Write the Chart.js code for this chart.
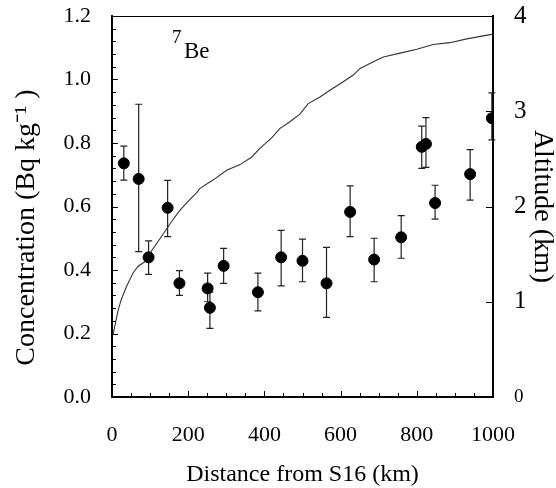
<!DOCTYPE html>
<html>
<head>
<meta charset="utf-8">
<script src="https://cdn.jsdelivr.net/npm/chart.js@4.4.0/dist/chart.umd.min.js"></script>
<style>
  html, body { margin: 0; padding: 0; background: #fff; }
  #wrap { width: 556px; height: 488px; }
</style>
</head>
<body>
<div id="wrap"><canvas id="beChart" width="556" height="488"></canvas></div>
<script>
// 7Be concentration samples (distance in km, Bq/kg)
const sampleDist = [31, 70, 96, 146, 177, 251, 257, 293, 383, 444, 500, 563, 625, 688, 759, 813, 824, 848, 940, 997];
const sampleConc = [0.736, 0.687, 0.44, 0.596, 0.358, 0.342, 0.281, 0.413, 0.33, 0.44, 0.429, 0.358, 0.583, 0.433, 0.503, 0.788, 0.797, 0.611, 0.702, 0.878];
const concHigh   = [0.79, 0.922, 0.492, 0.682, 0.398, 0.39, 0.33, 0.468, 0.39, 0.525, 0.497, 0.471, 0.665, 0.5, 0.571, 0.853, 0.88, 0.667, 0.779, 0.958];
const concLow    = [0.683, 0.458, 0.386, 0.505, 0.32, 0.30, 0.216, 0.358, 0.271, 0.35, 0.363, 0.251, 0.505, 0.363, 0.437, 0.72, 0.723, 0.56, 0.62, 0.81];

// altitude profile along the traverse (km)
const altDist = [3, 16, 24, 38, 55, 68, 86, 103, 129, 156, 178, 199, 221, 231, 266, 301, 336, 367, 388, 419, 441, 467, 493, 515, 546, 572, 607, 633, 651, 686, 712, 756, 800, 843, 887, 931, 1000];
const altKm   = [0.66, 0.91, 1.02, 1.16, 1.30, 1.37, 1.42, 1.53, 1.68, 1.84, 1.96, 2.05, 2.14, 2.19, 2.28, 2.38, 2.44, 2.52, 2.61, 2.72, 2.82, 2.89, 2.97, 3.08, 3.15, 3.22, 3.31, 3.38, 3.45, 3.52, 3.57, 3.61, 3.65, 3.70, 3.72, 3.76, 3.81];

const xTicks = [0, 200, 400, 600, 800, 1000];
const yTicks = [0, 0.2, 0.4, 0.6, 0.8, 1.0, 1.2];
const y2Ticks = [0, 1, 2, 3, 4];

const serif = "'Liberation Serif', 'Times New Roman', serif";

/* ---- error bars, drawn under the points ---- */
const errorBars = {
  id: 'errorBars',
  beforeDatasetsDraw(chart) {
    const { ctx, scales: { x, y } } = chart;
    ctx.save();
    ctx.strokeStyle = '#222';
    ctx.lineWidth = 1.2;
    sampleDist.forEach((d, i) => {
      const px = x.getPixelForValue(d);
      const top = y.getPixelForValue(concHigh[i]);
      const bot = y.getPixelForValue(concLow[i]);
      ctx.beginPath();
      ctx.moveTo(px, top); ctx.lineTo(px, bot);
      ctx.moveTo(px - 3.5, top); ctx.lineTo(px + 3.5, top);
      ctx.moveTo(px - 3.5, bot); ctx.lineTo(px + 3.5, bot);
      ctx.stroke();
    });
    ctx.restore();
  }
};

/* ---- frame, inward ticks, 7Be label ---- */
const frame = {
  id: 'frame',
  afterDraw(chart) {
    const { ctx, chartArea: a, scales: { x, y, y2 } } = chart;
    ctx.save();
    ctx.strokeStyle = '#000';
    ctx.lineWidth = 1;
    ctx.beginPath();
    ctx.moveTo(a.left, a.top + 0.5); ctx.lineTo(a.right, a.top + 0.5);
    ctx.stroke();

    ctx.beginPath();
    // left: every 0.04, longer at labelled values
    for (let k = 1; k < 30; k++) {
      const py = Math.round(y.getPixelForValue(k * 0.04)) + 0.5;
      const len = k % 5 === 0 ? 6 : 4;
      ctx.moveTo(a.left, py); ctx.lineTo(a.left + len, py);
    }
    // bottom: every 50 km
    for (let k = 1; k < 20; k++) {
      const px = Math.round(x.getPixelForValue(k * 50)) + 0.5;
      const len = k % 4 === 0 ? 6 : 4;
      ctx.moveTo(px, a.bottom); ctx.lineTo(px, a.bottom - len);
    }
    // right: every km
    for (let k = 1; k < 4; k++) {
      const py = Math.round(y2.getPixelForValue(k)) + 0.5;
      ctx.moveTo(a.right, py); ctx.lineTo(a.right - 7, py);
    }
    ctx.stroke();

    ctx.fillStyle = '#000';
    ctx.textBaseline = 'alphabetic';
    ctx.font = '19px ' + serif;
    ctx.fillText('7', a.left + 60, a.top + 27);
    ctx.font = '23px ' + serif;
    ctx.fillText('Be', a.left + 72, a.top + 42);
    ctx.restore();
  }
};

// keep the plot box where the reference has it (no label overflow padding)
function noVPad(s, w) { s.width = w; s.paddingTop = 0; s.paddingBottom = 0; }

new Chart(document.getElementById('beChart'), {
  type: 'scatter',
  data: {
    datasets: [
      {
        label: '7Be',
        data: sampleDist.map((d, i) => ({ x: d, y: sampleConc[i] })),
        yAxisID: 'y',
        backgroundColor: '#000',
        borderColor: '#000',
        pointRadius: 5.5,
        order: 1
      },
      {
        label: 'Altitude',
        type: 'line',
        data: altDist.map((d, i) => ({ x: d, y: altKm[i] })),
        yAxisID: 'y2',
        borderColor: '#333',
        borderWidth: 1.1,
        pointRadius: 0,
        tension: 0,
        fill: false,
        order: 2
      }
    ]
  },
  options: {
    responsive: false,
    devicePixelRatio: 1,
    animation: false,
    layout: { padding: { top: 16, left: 0, right: 0, bottom: 0 } },
    plugins: { legend: { display: false }, tooltip: { enabled: false } },
    scales: {
      x: {
        type: 'linear', min: 0, max: 1000,
        afterBuildTicks: s => { s.ticks = xTicks.map(v => ({ value: v })); },
        afterFit: s => { s.height = 91; s.paddingLeft = 0; s.paddingRight = 0; },
        grid: { display: false },
        border: { display: true, color: '#000', width: 2 },
        ticks: { color: '#000', padding: 17, font: { family: serif, size: 22 },
                 callback: v => String(v) },
        title: { display: true, text: 'Distance from S16 (km)', color: '#000',
                 font: { family: serif, size: 24, lineHeight: 1 }, padding: { top: 0, bottom: 1 } }
      },
      y: {
        type: 'linear', position: 'left', min: 0, max: 1.2,
        afterBuildTicks: s => { s.ticks = yTicks.map(v => ({ value: v })); },
        afterFit: s => noVPad(s, 112),
        grid: { display: false },
        border: { display: true, color: '#000', width: 2 },
        ticks: { color: '#000', padding: 13, font: { family: serif, size: 22 },
                 callback: v => v.toFixed(1) },
        title: { display: true, text: 'Concentration (Bq kg\u207B\u00B9 )\u00A0\u00A0\u00A0\u00A0\u00A0\u00A0', color: '#000',
                 font: { family: serif, size: 28, lineHeight: 1 }, padding: { top: 13, bottom: 0 } }
      },
      y2: {
        type: 'linear', position: 'right', min: 0, max: 4,
        afterBuildTicks: s => { s.ticks = y2Ticks.map(v => ({ value: v })); },
        afterFit: s => noVPad(s, 63),
        grid: { display: false },
        border: { display: true, color: '#000', width: 2 },
        ticks: { color: '#000', padding: 13,
                 font: ctx => ({ family: serif, size: ctx.tick && ctx.tick.value === 0 ? 19 : 25 }) },
        title: { display: true, text: 'Altitude (km)', color: '#000',
                 font: { family: serif, size: 28, lineHeight: 1 }, padding: { top: 0, bottom: 0 } }
      }
    }
  },
  plugins: [errorBars, frame]
});
</script>
</body>
</html>
